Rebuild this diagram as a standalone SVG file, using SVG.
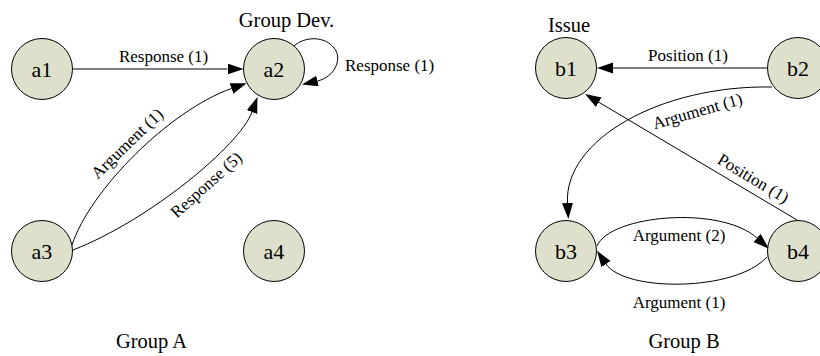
<svg xmlns="http://www.w3.org/2000/svg" width="820" height="356" viewBox="0 0 820 356">
  <style>
    .node circle { fill: #dee0cc; stroke: #000; stroke-width: 1; }
    .node text { font-family: "Liberation Serif", "Times New Roman", serif; font-size: 22px; text-anchor: middle; fill: #000; }
    .edge { fill: none; stroke: #000; stroke-width: 1; marker-end: url(#arrow); }
    .elabel { font-family: "Liberation Serif", "Times New Roman", serif; font-size: 17px; fill: #000; text-anchor: middle; }
    .glabel { font-family: "Liberation Serif", "Times New Roman", serif; font-size: 20.5px; fill: #000; text-anchor: middle; }
  </style>
  <defs>
    <marker id="arrow" markerUnits="userSpaceOnUse" markerWidth="17" markerHeight="12" refX="0" refY="5.5" orient="auto">
      <path d="M0,0 L16,5.5 L0,11 Z" fill="#000"/>
    </marker>
  </defs>
  <rect width="820" height="356" fill="#fff"/>

  <!-- connectors -->
  <g id="edges">
    <path class="edge" d="M72.5,69 L227.5,69"/>
    <path class="edge" d="M294,46 C305,36 325,36 334,48 C343,58 335,77 317.5,81"/>
    <path class="edge" d="M72,245 C90,190 170,110 231.5,88.5"/>
    <path class="edge" d="M73,250 C150,220 240,145 252,112"/>
    <path class="edge" d="M767.5,68 L613,68"/>
    <path class="edge" d="M772,87 C660,85 564,140 567.5,203"/>
    <path class="edge" d="M797,220 L598.8,102.2"/>
    <path class="edge" d="M597,246 C610,215 720,205 757,238"/>
    <path class="edge" d="M767,257 C735,292 625,292 606,264"/>
  </g>

  <!-- connector labels -->
  <g id="edge-labels">
    <text class="elabel" x="163.5" y="61.5">Response (1)</text>
    <text class="elabel" x="345" y="71" style="text-anchor:start">Response (1)</text>
    <text class="elabel" transform="translate(131,147.5) rotate(-44)">Argument (1)</text>
    <text class="elabel" transform="translate(210,189) rotate(-42)">Response (5)</text>
    <text class="elabel" x="688" y="61">Position (1)</text>
    <text class="elabel" transform="translate(699,116.5) rotate(-16)">Argument (1)</text>
    <text class="elabel" transform="translate(750.4,183.3) rotate(31)">Position (1)</text>
    <text class="elabel" x="679" y="241">Argument (2)</text>
    <text class="elabel" x="679" y="307.5">Argument (1)</text>
  </g>

  <!-- nodes -->
  <g id="a1" class="node"><circle cx="42" cy="69" r="30.5"/><text x="42" y="76.5">a1</text></g>
  <g id="a2" class="node"><circle cx="274" cy="69" r="30.5"/><text x="274" y="76.5">a2</text></g>
  <g id="a3" class="node"><circle cx="42" cy="251" r="30.5"/><text x="42" y="258.5">a3</text></g>
  <g id="a4" class="node"><circle cx="274" cy="251" r="30.5"/><text x="274" y="258.5">a4</text></g>
  <g id="b1" class="node"><circle cx="566" cy="68" r="30.5"/><text x="566" y="75.5">b1</text></g>
  <g id="b2" class="node"><circle cx="798" cy="68" r="30.5"/><text x="798" y="75.5">b2</text></g>
  <g id="b3" class="node"><circle cx="566" cy="251" r="30.5"/><text x="566" y="258.5">b3</text></g>
  <g id="b4" class="node"><circle cx="798" cy="251" r="30.5"/><text x="798" y="258.5">b4</text></g>

  <!-- group captions -->
  <g id="captions">
    <text class="glabel" x="286.5" y="26.7">Group Dev.</text>
    <text class="glabel" x="569" y="31.5">Issue</text>
    <text class="glabel" x="151.5" y="348">Group A</text>
    <text class="glabel" x="684" y="348">Group B</text>
  </g>
</svg>
